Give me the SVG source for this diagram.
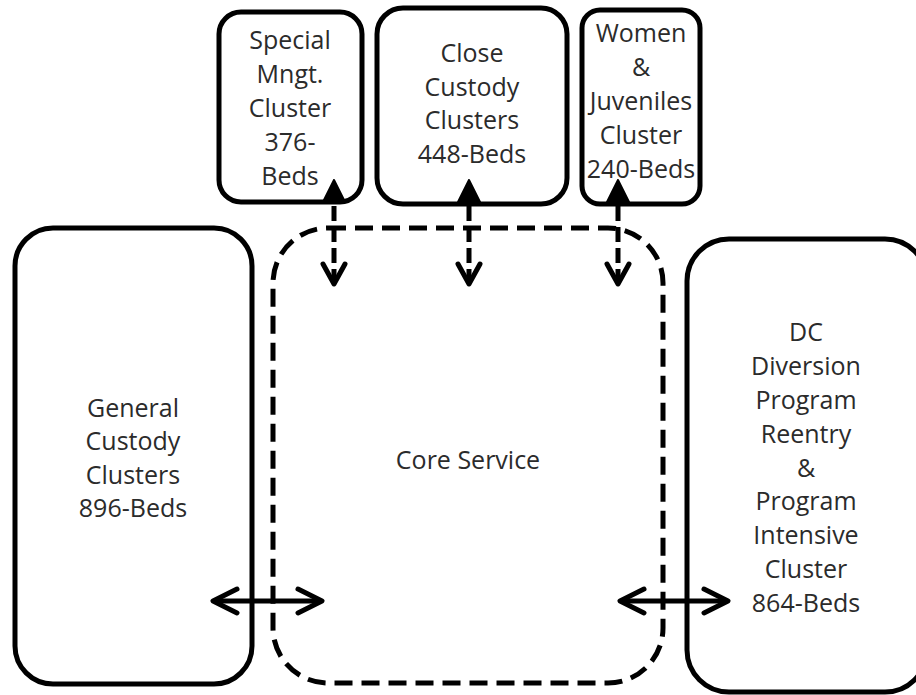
<svg xmlns="http://www.w3.org/2000/svg" width="916" height="695" viewBox="0 0 916 695">
  <style>
    .box { fill: #ffffff; stroke: #000000; stroke-width: 5; }
    .core { fill: none; stroke: #000000; stroke-width: 5; stroke-dasharray: 18 9; }
    .lbl { font-family: "Open Sans", "Noto Sans", sans-serif; font-size: 25px; fill: #2b2b2b; text-anchor: middle; }
    .shaft { fill: none; stroke: #000000; stroke-width: 5; stroke-dasharray: 15 6; }
    .line { fill: none; stroke: #000000; stroke-width: 5; }
    .head { fill: none; stroke: #000000; stroke-width: 5; stroke-linecap: round; stroke-linejoin: round; }
    .tip { fill: #000000; stroke: #000000; stroke-width: 2; stroke-linejoin: round; }
  </style>

  <!-- Core service area (dashed) -->
  <g id="core-service">
    <rect class="core" x="273" y="228" width="390" height="455" rx="55" ry="55"/>
    <text class="lbl" x="468" y="469">Core Service</text>
  </g>

  <g id="general-custody">
    <rect class="box" x="15" y="228" width="237" height="456" rx="38" ry="38"/>
    <text class="lbl" x="133" y="417">General</text>
    <text class="lbl" x="133" y="450">Custody</text>
    <text class="lbl" x="133" y="484">Clusters</text>
    <text class="lbl" x="133" y="517">896-Beds</text>
  </g>

  <g id="dc-diversion">
    <rect class="box" x="687" y="239" width="240" height="453" rx="42" ry="42"/>
    <text class="lbl" x="806" y="341">DC</text>
    <text class="lbl" x="806" y="375">Diversion</text>
    <text class="lbl" x="806" y="409">Program</text>
    <text class="lbl" x="806" y="443">Reentry</text>
    <text class="lbl" x="806" y="477">&amp;</text>
    <text class="lbl" x="806" y="510">Program</text>
    <text class="lbl" x="806" y="544">Intensive</text>
    <text class="lbl" x="806" y="578">Cluster</text>
    <text class="lbl" x="806" y="612">864-Beds</text>
  </g>

  <g id="special-mngt">
    <rect class="box" x="219" y="12" width="143" height="190" rx="22" ry="22"/>
    <text class="lbl" x="290" y="49">Special</text>
    <text class="lbl" x="290" y="83">Mngt.</text>
    <text class="lbl" x="290" y="117">Cluster</text>
    <text class="lbl" x="290" y="151">376-</text>
    <text class="lbl" x="290" y="185">Beds</text>
  </g>

  <g id="close-custody">
    <rect class="box" x="377" y="8" width="190" height="196" rx="26" ry="26"/>
    <text class="lbl" x="472" y="62">Close</text>
    <text class="lbl" x="472" y="96">Custody</text>
    <text class="lbl" x="472" y="129">Clusters</text>
    <text class="lbl" x="472" y="163">448-Beds</text>
  </g>

  <g id="women-juveniles">
    <rect class="box" x="582" y="10" width="118" height="194" rx="18" ry="18"/>
    <text class="lbl" x="641" y="42">Women</text>
    <text class="lbl" x="641" y="76">&amp;</text>
    <text class="lbl" x="641" y="110">Juveniles</text>
    <text class="lbl" x="641" y="144">Cluster</text>
    <text class="lbl" x="641" y="178">240-Beds</text>
  </g>

  <!-- Connectors -->
  <g id="connectors">
    <!-- Special Mngt <-> Core -->
    <line class="shaft" x1="334" y1="206" x2="334" y2="282"/>
    <path class="tip" d="M334,180 L323,202 L345,202 Z"/>
    <path class="head" d="M323,264 L334,284 L345,264"/>

    <!-- Close Custody <-> Core -->
    <line class="shaft" x1="469" y1="206" x2="469" y2="282"/>
    <path class="tip" d="M469,180 L458,202 L480,202 Z"/>
    <path class="head" d="M458,264 L469,284 L480,264"/>

    <!-- Women & Juveniles <-> Core -->
    <line class="shaft" x1="618" y1="206" x2="618" y2="282"/>
    <path class="tip" d="M618,180 L607,202 L629,202 Z"/>
    <path class="head" d="M607,264 L618,284 L629,264"/>

    <!-- General Custody <-> Core -->
    <line class="line" x1="214" y1="601" x2="321" y2="601"/>
    <path class="head" d="M237,589 L213,601 L237,613"/>
    <path class="head" d="M298,589 L322,601 L298,613"/>

    <!-- Core <-> DC Diversion -->
    <line class="line" x1="621" y1="601" x2="727" y2="601"/>
    <path class="head" d="M644,589 L620,601 L644,613"/>
    <path class="head" d="M704,589 L728,601 L704,613"/>
  </g>
</svg>
